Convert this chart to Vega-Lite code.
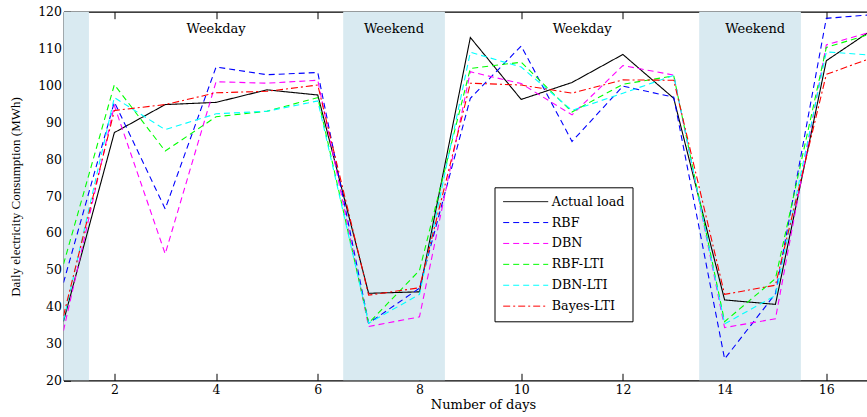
{
  "$schema": "https://vega.github.io/schema/vega-lite/v6.json",
  "autosize": {"type": "none"},
  "padding": {"left": 63.5, "top": 11.7, "right": 0, "bottom": 36.7},
  "width": 803.5,
  "height": 368.6,
  "config": {
    "view": {"stroke": null},
    "axis": {
      "domainColor": "black", "domainWidth": 1.2,
      "tickColor": "black", "tickWidth": 1, "tickSize": -7,
      "labelFont": "DejaVu Serif", "labelFontSize": 12.5, "labelColor": "black",
      "titleFont": "DejaVu Serif", "titleFontSize": 13, "titleFontWeight": "normal", "titleColor": "black",
      "grid": false, "zindex": 1, "labelOverlap": false
    },
    "legend": {
      "labelFont": "DejaVu Serif", "labelFontSize": 12.7, "labelColor": "black"
    }
  },
  "datasets": {
    "bands": [
      {"start": 1, "end": 1.5},
      {"start": 6.5, "end": 8.5},
      {"start": 13.5, "end": 15.5}
    ],
    "labels": [
      {"day": 4, "y": 114.1, "label": "Weekday"},
      {"day": 7.5, "y": 114.1, "label": "Weekend"},
      {"day": 11.2, "y": 114.1, "label": "Weekday"},
      {"day": 14.6, "y": 114.1, "label": "Weekend"}
    ],
    "loads": [
      {"series": "Actual load", "day": 1, "value": 36.0},
      {"series": "Actual load", "day": 2, "value": 87.2},
      {"series": "Actual load", "day": 3, "value": 94.8},
      {"series": "Actual load", "day": 4, "value": 95.4},
      {"series": "Actual load", "day": 5, "value": 98.8},
      {"series": "Actual load", "day": 6, "value": 97.4},
      {"series": "Actual load", "day": 7, "value": 43.6},
      {"series": "Actual load", "day": 8, "value": 44.0},
      {"series": "Actual load", "day": 9, "value": 113.0},
      {"series": "Actual load", "day": 10, "value": 96.2},
      {"series": "Actual load", "day": 11, "value": 100.8},
      {"series": "Actual load", "day": 12, "value": 108.4},
      {"series": "Actual load", "day": 13, "value": 96.5},
      {"series": "Actual load", "day": 14, "value": 41.8},
      {"series": "Actual load", "day": 15, "value": 40.6},
      {"series": "Actual load", "day": 16, "value": 106.7},
      {"series": "Actual load", "day": 17, "value": 116.0},
      {"series": "RBF", "day": 1, "value": 46.5},
      {"series": "RBF", "day": 2, "value": 95.5},
      {"series": "RBF", "day": 3, "value": 66.5},
      {"series": "RBF", "day": 4, "value": 105.0},
      {"series": "RBF", "day": 5, "value": 102.9},
      {"series": "RBF", "day": 6, "value": 103.5},
      {"series": "RBF", "day": 7, "value": 35.5},
      {"series": "RBF", "day": 8, "value": 45.0},
      {"series": "RBF", "day": 9, "value": 96.5},
      {"series": "RBF", "day": 10, "value": 110.7},
      {"series": "RBF", "day": 11, "value": 84.8},
      {"series": "RBF", "day": 12, "value": 99.8},
      {"series": "RBF", "day": 13, "value": 96.8},
      {"series": "RBF", "day": 14, "value": 25.8},
      {"series": "RBF", "day": 15, "value": 43.5},
      {"series": "RBF", "day": 16, "value": 118.2},
      {"series": "RBF", "day": 17, "value": 119.3},
      {"series": "DBN", "day": 1, "value": 33.5},
      {"series": "DBN", "day": 2, "value": 94.5},
      {"series": "DBN", "day": 3, "value": 54.3},
      {"series": "DBN", "day": 4, "value": 101.0},
      {"series": "DBN", "day": 5, "value": 100.6},
      {"series": "DBN", "day": 6, "value": 101.4},
      {"series": "DBN", "day": 7, "value": 34.6},
      {"series": "DBN", "day": 8, "value": 37.2},
      {"series": "DBN", "day": 9, "value": 103.7},
      {"series": "DBN", "day": 10, "value": 100.5},
      {"series": "DBN", "day": 11, "value": 92.0},
      {"series": "DBN", "day": 12, "value": 105.4},
      {"series": "DBN", "day": 13, "value": 102.8},
      {"series": "DBN", "day": 14, "value": 34.3},
      {"series": "DBN", "day": 15, "value": 36.7},
      {"series": "DBN", "day": 16, "value": 111.0},
      {"series": "DBN", "day": 17, "value": 115.0},
      {"series": "RBF-LTI", "day": 1, "value": 51.5},
      {"series": "RBF-LTI", "day": 2, "value": 100.2},
      {"series": "RBF-LTI", "day": 3, "value": 82.2},
      {"series": "RBF-LTI", "day": 4, "value": 91.5},
      {"series": "RBF-LTI", "day": 5, "value": 93.0},
      {"series": "RBF-LTI", "day": 6, "value": 96.7},
      {"series": "RBF-LTI", "day": 7, "value": 35.5},
      {"series": "RBF-LTI", "day": 8, "value": 49.8},
      {"series": "RBF-LTI", "day": 9, "value": 104.6},
      {"series": "RBF-LTI", "day": 10, "value": 106.3},
      {"series": "RBF-LTI", "day": 11, "value": 92.8},
      {"series": "RBF-LTI", "day": 12, "value": 100.3},
      {"series": "RBF-LTI", "day": 13, "value": 102.6},
      {"series": "RBF-LTI", "day": 14, "value": 35.9},
      {"series": "RBF-LTI", "day": 15, "value": 47.6},
      {"series": "RBF-LTI", "day": 16, "value": 110.3},
      {"series": "RBF-LTI", "day": 17, "value": 114.5},
      {"series": "DBN-LTI", "day": 1, "value": 36.2},
      {"series": "DBN-LTI", "day": 2, "value": 96.7},
      {"series": "DBN-LTI", "day": 3, "value": 88.0},
      {"series": "DBN-LTI", "day": 4, "value": 92.3},
      {"series": "DBN-LTI", "day": 5, "value": 93.0},
      {"series": "DBN-LTI", "day": 6, "value": 95.8},
      {"series": "DBN-LTI", "day": 7, "value": 35.5},
      {"series": "DBN-LTI", "day": 8, "value": 43.3},
      {"series": "DBN-LTI", "day": 9, "value": 109.0},
      {"series": "DBN-LTI", "day": 10, "value": 105.0},
      {"series": "DBN-LTI", "day": 11, "value": 93.2},
      {"series": "DBN-LTI", "day": 12, "value": 97.9},
      {"series": "DBN-LTI", "day": 13, "value": 102.7},
      {"series": "DBN-LTI", "day": 14, "value": 35.3},
      {"series": "DBN-LTI", "day": 15, "value": 43.0},
      {"series": "DBN-LTI", "day": 16, "value": 109.1},
      {"series": "DBN-LTI", "day": 17, "value": 108.1},
      {"series": "Bayes-LTI", "day": 1, "value": 37.5},
      {"series": "Bayes-LTI", "day": 2, "value": 93.2},
      {"series": "Bayes-LTI", "day": 3, "value": 94.8},
      {"series": "Bayes-LTI", "day": 4, "value": 98.0},
      {"series": "Bayes-LTI", "day": 5, "value": 98.4},
      {"series": "Bayes-LTI", "day": 6, "value": 100.1},
      {"series": "Bayes-LTI", "day": 7, "value": 43.1},
      {"series": "Bayes-LTI", "day": 8, "value": 45.1},
      {"series": "Bayes-LTI", "day": 9, "value": 100.6},
      {"series": "Bayes-LTI", "day": 10, "value": 100.1},
      {"series": "Bayes-LTI", "day": 11, "value": 97.9},
      {"series": "Bayes-LTI", "day": 12, "value": 101.5},
      {"series": "Bayes-LTI", "day": 13, "value": 101.4},
      {"series": "Bayes-LTI", "day": 14, "value": 43.3},
      {"series": "Bayes-LTI", "day": 15, "value": 45.8},
      {"series": "Bayes-LTI", "day": 16, "value": 103.0},
      {"series": "Bayes-LTI", "day": 17, "value": 108.0}
    ]
  },
  "layer": [
    {
      "data": {"name": "bands"},
      "mark": {"type": "rect", "color": "#d9eaf1"},
      "encoding": {
        "x": {
          "field": "start", "type": "quantitative",
          "scale": {"domain": [1, 16.8], "nice": false, "zero": false},
          "axis": {
            "orient": "bottom",
            "values": [2, 4, 6, 8, 10, 12, 14, 16],
            "format": "d",
            "labelPadding": 10.5,
            "title": "Number of days",
            "titleX": 419.5,
            "titleY": 27.7,
            "titleAlign": "center",
            "titleBaseline": "alphabetic"
          }
        },
        "x2": {"field": "end"}
      }
    },
    {
      "data": {"name": "loads"},
      "mark": {"type": "line", "strokeWidth": 1.1, "clip": true},
      "encoding": {
        "x": {
          "field": "day", "type": "quantitative",
          "scale": {"domain": [1, 16.8], "nice": false, "zero": false},
          "axis": null
        },
        "y": {
          "field": "value", "type": "quantitative",
          "scale": {"domain": [20, 120], "nice": false, "zero": false},
          "axis": {
            "orient": "left",
            "values": [20, 30, 40, 50, 60, 70, 80, 90, 100, 110, 120],
            "labelPadding": 9,
            "title": "Daily electricity Consumption (MWh)",
            "titleFont": "Liberation Serif",
            "titleFontSize": 13,
            "titleX": -44.5,
            "titleY": 184.8,
            "titleAngle": -90,
            "titleAlign": "center",
            "titleBaseline": "alphabetic"
          }
        },
        "color": {
          "field": "series", "type": "nominal",
          "scale": {
            "domain": ["Actual load", "RBF", "DBN", "RBF-LTI", "DBN-LTI", "Bayes-LTI"],
            "range": ["#000000", "#0000ff", "#ff00ff", "#00ff00", "#00ffff", "#ff0000"]
          },
          "legend": {
            "title": null,
            "orient": "none",
            "legendX": 431,
            "legendY": 175.6,
            "padding": 8,
            "rowPadding": 6.9,
            "symbolType": "M-4.5,0H4.5",
            "symbolSize": 100,
            "symbolStrokeWidth": 1,
            "symbolOffset": 16.85,
            "labelOffset": 19.7,
            "strokeColor": "black",
            "fillColor": "white"
          }
        },
        "strokeDash": {
          "field": "series", "type": "nominal",
          "scale": {
            "domain": ["Actual load", "RBF", "DBN", "RBF-LTI", "DBN-LTI", "Bayes-LTI"],
            "range": [[1, 0], [6, 4], [6, 4], [6, 4], [6, 4], [7, 3, 2, 3]]
          },
          "legend": {
            "title": null,
            "orient": "none",
            "legendX": 431,
            "legendY": 175.6,
            "padding": 8,
            "rowPadding": 6.9,
            "symbolType": "M-4.5,0H4.5",
            "symbolSize": 100,
            "symbolStrokeWidth": 1,
            "symbolOffset": 16.85,
            "labelOffset": 19.7,
            "strokeColor": "black",
            "fillColor": "white"
          }
        }
      }
    },
    {
      "data": {"name": "labels"},
      "mark": {"type": "text", "font": "DejaVu Serif", "fontSize": 13, "color": "black", "align": "center", "baseline": "alphabetic"},
      "encoding": {
        "x": {
          "field": "day", "type": "quantitative",
          "scale": {"domain": [1, 16.8], "nice": false, "zero": false},
          "axis": {
            "orient": "top",
            "values": [2, 4, 6, 8, 10, 12, 14, 16],
            "labels": false,
            "title": null
          }
        },
        "y": {
          "field": "y", "type": "quantitative",
          "scale": {"domain": [20, 120], "nice": false, "zero": false},
          "axis": {
            "orient": "left",
            "values": [20, 30, 40, 50, 60, 70, 80, 90, 100, 110, 120],
            "labelPadding": 9,
            "title": "Daily electricity Consumption (MWh)",
            "titleFont": "Liberation Serif",
            "titleFontSize": 13,
            "titleX": -44.5,
            "titleY": 184.8,
            "titleAngle": -90,
            "titleAlign": "center",
            "titleBaseline": "alphabetic"
          }
        },
        "text": {"field": "label"}
      }
    }
  ],
  "resolve": {"axis": {"x": "independent"}}
}
